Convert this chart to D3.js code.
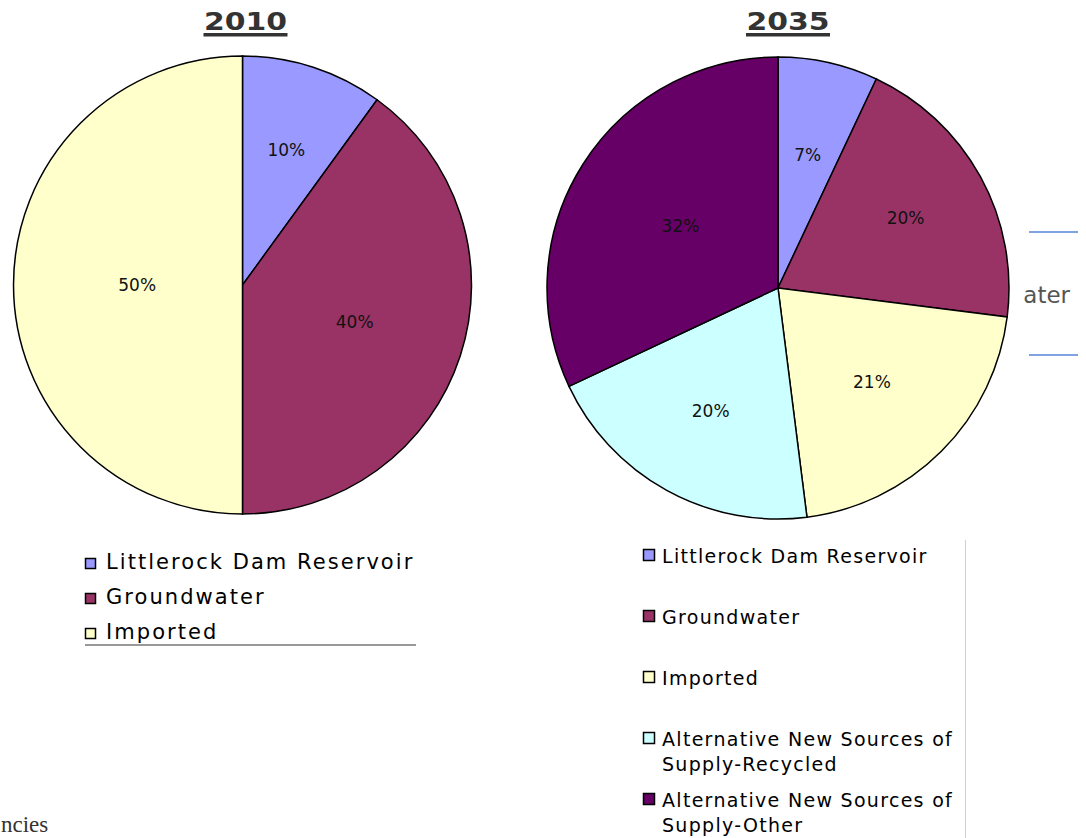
<!DOCTYPE html>
<html>
<head>
<meta charset="utf-8">
<script src="https://cdn.jsdelivr.net/npm/d3@7"></script>
<style>
  body { margin: 0; background: #fff; }
  svg { display: block; }
</style>
</head>
<body>
<svg id="chart" width="1086" height="838"></svg>
<script>
// data
var categories = ["Littlerock Dam Reservoir", "Groundwater", "Imported",
  "Alternative New Sources of Supply-Recycled", "Alternative New Sources of Supply-Other"];
var years = ["2010", "2035"];
var share2010 = [10, 40, 50];
var share2035 = [7, 20, 21, 20, 32];
var sliceColors = ["#9999FF", "#993366", "#FFFFCC", "#CCFFFF", "#660066"];

var svg = d3.select("#chart");
var font = "'DejaVu Sans', Verdana, sans-serif";

// leftovers from the page behind the chart (only their visible ends show)
var bg = svg.append("g");
bg.append("text")
  .attr("x", 1070).attr("y", 303)
  .attr("text-anchor", "end")
  .style("font-family", font).style("font-size", "23px").style("fill", "#555")
  .text("ater");
bg.selectAll("line.edge").data([232, 355]).enter().append("line")
  .attr("class", "edge")
  .attr("x1", 1029).attr("x2", 1078)
  .attr("y1", function(d) { return d; }).attr("y2", function(d) { return d; })
  .attr("stroke", "#7FA3E0").attr("stroke-width", 2);
bg.append("text")
  .attr("x", 1).attr("y", 832)
  .style("font-family", "'Liberation Serif', serif").style("font-size", "23px").style("fill", "#333")
  .text("ncies");
bg.append("line")
  .attr("x1", 965.5).attr("x2", 965.5).attr("y1", 540).attr("y2", 838)
  .attr("stroke", "#d0d0d0").attr("stroke-width", 1);

var charts = [
  { year: years[0], values: share2010, cx: 242.5, cy: 285, r: 229, tx: 245.5,
    labelR: [0.62, 0.515, 0.46] },
  { year: years[1], values: share2035, cx: 778, cy: 288, r: 231, tx: 788,
    labelR: [0.59, 0.63, 0.575, 0.605, 0.5] }
];

var pie = d3.pie().sort(null).value(function(d) { return d; });

charts.forEach(function(c) {
  var g = svg.append("g").attr("transform", "translate(" + c.cx + "," + c.cy + ")");
  var arc = d3.arc().innerRadius(0).outerRadius(c.r);
  var arcs = pie(c.values);

  g.selectAll("path").data(arcs).enter().append("path")
    .attr("d", arc)
    .attr("fill", function(d, i) { return sliceColors[i]; })
    .attr("stroke", "#000").attr("stroke-width", 1.5);

  g.selectAll("text.pct").data(arcs).enter().append("text")
    .attr("class", "pct")
    .attr("transform", function(d, i) {
      var a = (d.startAngle + d.endAngle) / 2, rr = c.r * c.labelR[i];
      return "translate(" + (Math.sin(a) * rr) + "," + (-Math.cos(a) * rr) + ")";
    })
    .attr("text-anchor", "middle")
    .attr("dy", "0.36em")
    .style("font-family", font).style("font-size", "17px").style("fill", "#111")
    .text(function(d) { return d.data + "%"; });

  // title, bold + underlined
  svg.append("text")
    .attr("x", c.tx).attr("y", 30)
    .attr("text-anchor", "middle")
    .attr("textLength", 83).attr("lengthAdjust", "spacingAndGlyphs")
    .style("font-family", font).style("font-weight", "bold").style("font-size", "24px")
    .style("fill", "#333")
    .text(c.year);
  svg.append("rect")
    .attr("x", c.tx - 42).attr("y", 33).attr("width", 84).attr("height", 3.5)
    .attr("fill", "#333");
});

// legend for 2010
var leg1 = svg.append("g");
var rows1 = leg1.selectAll("g").data(categories.slice(0, share2010.length)).enter().append("g")
  .attr("transform", function(d, i) { return "translate(0," + (569 + i * 35) + ")"; });
rows1.append("rect")
  .attr("x", 85.5).attr("y", -10.5).attr("width", 10).attr("height", 10)
  .attr("fill", function(d, i) { return sliceColors[i]; })
  .attr("stroke", "#000").attr("stroke-width", 1.5);
rows1.append("text")
  .attr("x", 106)
  .style("font-family", font).style("font-size", "21px").style("letter-spacing", "2.05px")
  .style("fill", "#000")
  .text(function(d) { return d; });
leg1.append("line")
  .attr("x1", 85).attr("x2", 416).attr("y1", 645).attr("y2", 645)
  .attr("stroke", "#777").attr("stroke-width", 1.5);

// legend for 2035 (long names wrap onto two lines)
var leg2 = svg.append("g");
var rows2 = leg2.selectAll("g").data(categories.slice(0, share2035.length)).enter().append("g")
  .attr("transform", function(d, i) { return "translate(0," + (563 + i * 61) + ")"; });
rows2.append("rect")
  .attr("x", 643.5).attr("y", -13.5).attr("width", 11).attr("height", 11)
  .attr("fill", function(d, i) { return sliceColors[i]; })
  .attr("stroke", "#000").attr("stroke-width", 1.5);
rows2.append("text")
  .attr("x", 662)
  .style("font-family", font).style("font-size", "19px").style("letter-spacing", "1.3px")
  .style("fill", "#000")
  .each(function(d) {
    var el = d3.select(this), words = d.split(" "), line = [];
    var ts = el.append("tspan").attr("x", 662).attr("dy", 0);
    words.forEach(function(w) {
      line.push(w);
      ts.text(line.join(" "));
      if (ts.node().getComputedTextLength() > 300 && line.length > 1) {
        line.pop();
        ts.text(line.join(" "));
        line = [w];
        ts = el.append("tspan").attr("x", 662).attr("dy", 25).text(w);
      }
    });
  });
</script>
</body>
</html>
